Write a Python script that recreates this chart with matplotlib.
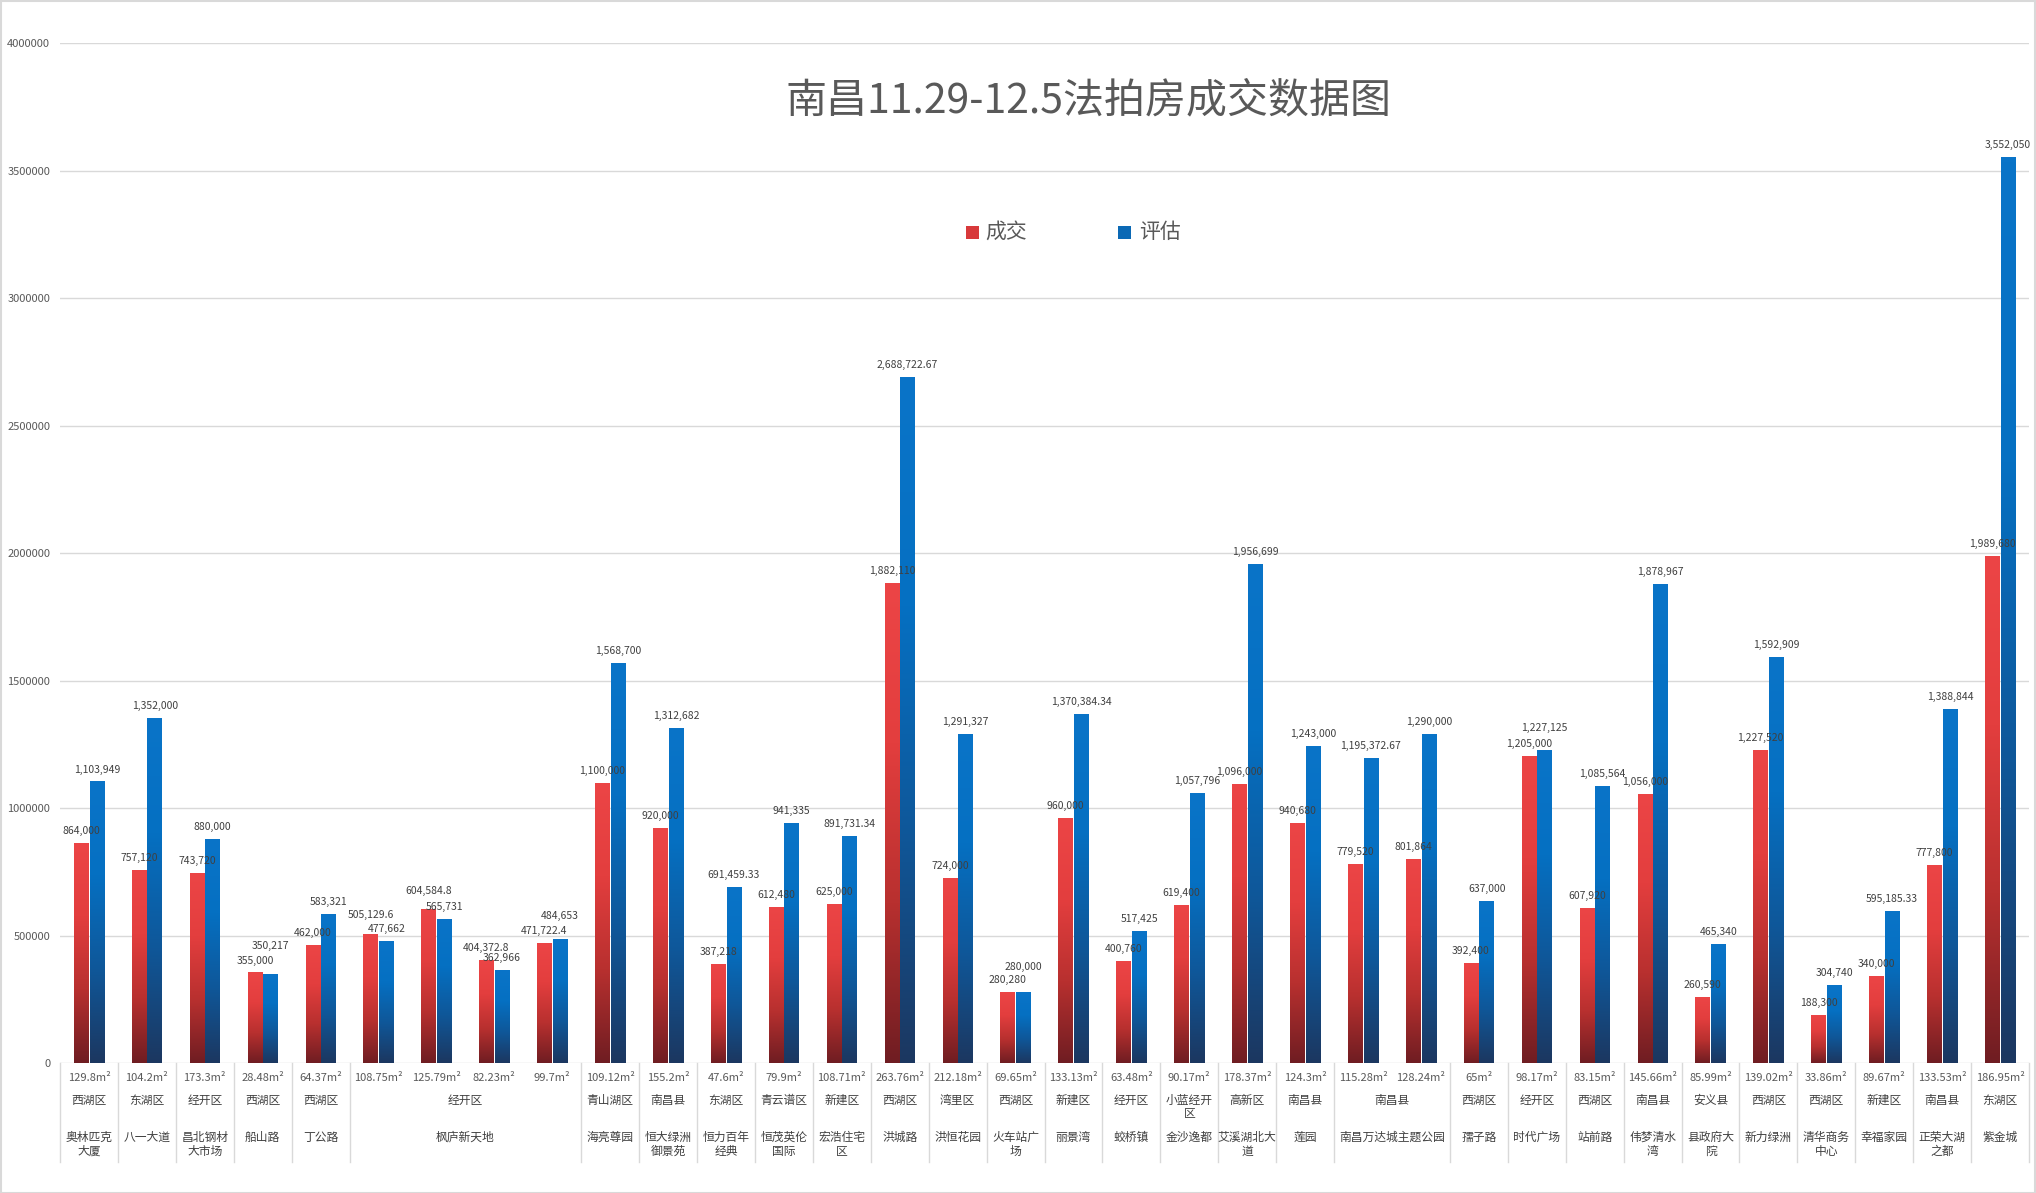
import matplotlib
matplotlib.use('Agg')
import matplotlib.pyplot as plt
import numpy as np
from matplotlib.colors import LinearSegmentedColormap
from matplotlib.patches import Rectangle

plt.rcParams['font.family'] = ['Noto Sans CJK SC', 'DejaVu Sans']

# 面积
areas = ["129.8m²", "104.2m²", "173.3m²", "28.48m²", "64.37m²", "108.75m²", "125.79m²",
         "82.23m²", "99.7m²", "109.12m²", "155.2m²", "47.6m²", "79.9m²", "108.71m²",
         "263.76m²", "212.18m²", "69.65m²", "133.13m²", "63.48m²", "90.17m²", "178.37m²",
         "124.3m²", "115.28m²", "128.24m²", "65m²", "98.17m²", "83.15m²", "145.66m²",
         "85.99m²", "139.02m²", "33.86m²", "89.67m²", "133.53m²", "186.95m²"]

# 区域 / 小区: (起始序号, 结束序号, 文字)
districts = [(0, 0, "西湖区"), (1, 1, "东湖区"), (2, 2, "经开区"), (3, 3, "西湖区"), (4, 4, "西湖区"),
             (5, 8, "经开区"), (9, 9, "青山湖区"), (10, 10, "南昌县"), (11, 11, "东湖区"),
             (12, 12, "青云谱区"), (13, 13, "新建区"), (14, 14, "西湖区"), (15, 15, "湾里区"),
             (16, 16, "西湖区"), (17, 17, "新建区"), (18, 18, "经开区"), (19, 19, "小蓝经开\n区"),
             (20, 20, "高新区"), (21, 21, "南昌县"), (22, 23, "南昌县"), (24, 24, "西湖区"),
             (25, 25, "经开区"), (26, 26, "西湖区"), (27, 27, "南昌县"), (28, 28, "安义县"),
             (29, 29, "西湖区"), (30, 30, "西湖区"), (31, 31, "新建区"), (32, 32, "南昌县"),
             (33, 33, "东湖区")]

names = [(0, 0, "奥林匹克\n大厦"), (1, 1, "八一大道"), (2, 2, "昌北钢材\n大市场"), (3, 3, "船山路"),
         (4, 4, "丁公路"), (5, 8, "枫庐新天地"), (9, 9, "海亮尊园"), (10, 10, "恒大绿洲\n御景苑"),
         (11, 11, "恒力百年\n经典"), (12, 12, "恒茂英伦\n国际"), (13, 13, "宏浩住宅\n区"),
         (14, 14, "洪城路"), (15, 15, "洪恒花园"), (16, 16, "火车站广\n场"), (17, 17, "丽景湾"),
         (18, 18, "蛟桥镇"), (19, 19, "金沙逸都"), (20, 20, "艾溪湖北大\n道"), (21, 21, "莲园"),
         (22, 23, "南昌万达城主题公园"), (24, 24, "孺子路"), (25, 25, "时代广场"),
         (26, 26, "站前路"), (27, 27, "伟梦清水\n湾"), (28, 28, "县政府大\n院"),
         (29, 29, "新力绿洲"), (30, 30, "清华商务\n中心"), (31, 31, "幸福家园"),
         (32, 32, "正荣大湖\n之都"), (33, 33, "紫金城")]

deal = [864000, 757120, 743720, 355000, 462000, 505129.6, 604584.8, 404372.8, 471722.4,
        1100000, 920000, 387218, 612480, 625000, 1882110, 724000, 280280, 960000, 400760,
        619400, 1096000, 940680, 779520, 801864, 392400, 1205000, 607920, 1056000, 260590,
        1227520, 188300, 340000, 777800, 1989680]

assess = [1103949, 1352000, 880000, 350217, 583321, 477662, 565731, 362966, 484653,
          1568700, 1312682, 691459.33, 941335, 891731.34, 2688722.67, 1291327, 280000,
          1370384.34, 517425, 1057796, 1956699, 1243000, 1195372.67, 1290000, 637000,
          1227125, 1085564, 1878967, 465340, 1592909, 304740, 595185.33, 1388844, 3552050]

W, H = 2036, 1193
fig = plt.figure(figsize=(W / 100, H / 100), dpi=100)
ax_left, ax_right, ax_bot, ax_top = 60, 2029, 1063, 43
ax = fig.add_axes([ax_left / W, 1 - ax_bot / H, (ax_right - ax_left) / W, (ax_bot - ax_top) / H])

n = len(areas)
x = np.arange(n)
bw = 0.25
off = 0.135

red_cmap = LinearSegmentedColormap.from_list("r", ["#6f1d22", "#b8302f", "#e33e3e", "#ec4546"])
blue_cmap = LinearSegmentedColormap.from_list("b", ["#1c3760", "#0f5799", "#0570c2", "#0a74c8"])
grad = np.linspace(0, 1, 256).reshape(-1, 1)

ax.set_xlim(-0.5, n - 0.5)
ax.set_ylim(0, 4000000)

# 标签避让（额外上移，单位 pt）
lift_red = {5: 5, 6: 4}
lift_blue = {3: 11, 8: 8, 16: 9, 25: 7}


def fmt(v):
    if float(v).is_integer():
        return format(int(v), ",")
    return format(v, ",")


for vals, dx, cmap, col, lift in [(deal, -off, red_cmap, "#d8393b", lift_red),
                                   (assess, off, blue_cmap, "#0b69b5", lift_blue)]:
    bars = ax.bar(x + dx, vals, width=bw, color=col, zorder=2)
    for i, (b, v) in enumerate(zip(bars, vals)):
        x0 = b.get_x()
        im = ax.imshow(grad, extent=[x0, x0 + bw, 0, v], origin="lower", aspect="auto",
                       cmap=cmap, zorder=2.5, interpolation="bilinear")
        im.set_clip_path(b)
        ax.annotate(fmt(v), (x0 + bw / 2, v), xytext=(0, 5 + lift.get(i, 0)),
                    textcoords="offset points", ha="center", va="bottom",
                    fontsize=7.5, color="#404040", zorder=4)

ax.set_xlim(-0.5, n - 0.5)
ax.set_ylim(0, 4000000)

ax.set_yticks(np.arange(0, 4000001, 500000))
ax.set_yticklabels([str(v) for v in range(0, 4000001, 500000)], fontsize=8, color="#595959")
ax.tick_params(axis="y", length=0, pad=7)
ax.set_xticks([])
ax.grid(axis="y", color="#d9d9d9", linewidth=1)
ax.set_axisbelow(True)
for s in ax.spines.values():
    s.set_visible(False)

tr = ax.get_xaxis_transform()


def ay(px):
    return (ax_bot - px) / (ax_bot - ax_top)


# 分类标签
for i, a in enumerate(areas):
    ax.text(i, ay(1078), a, transform=tr, ha="center", va="center", fontsize=8, color="#595959")
for s, e, t in districts:
    ax.text((s + e) / 2, ay(1094), t, transform=tr, ha="center", va="top", fontsize=8.5,
            color="#404040", linespacing=1.05)
for s, e, t in names:
    ax.text((s + e) / 2, ay(1131), t, transform=tr, ha="center", va="top", fontsize=8.5,
            color="#404040", linespacing=1.05)

# 分隔线
bounds = sorted(set([s - 0.5 for s, e, t in districts] + [n - 0.5]))
for b in bounds:
    ax.plot([b, b], [ay(1063), ay(1162)], transform=tr, color="#d9d9d9", linewidth=1, clip_on=False)

# 标题
fig.text(1089 / W, 1 - 101 / H, "南昌11.29-12.5法拍房成交数据图", ha="center", va="center",
         fontsize=29.5, color="#595959")

# 图例
for cx, c, lab, tx in [(972, "#d8393b", "成交", 985), (1124, "#0b69b5", "评估", 1139)]:
    fig.add_artist(Rectangle(((cx - 6.5) / W, 1 - (232 + 6.5) / H), 13 / W, 13 / H,
                             transform=fig.transFigure, facecolor=c, edgecolor="none"))
    fig.text(tx / W, 1 - 232 / H, lab, ha="left", va="center", fontsize=15, color="#595959")

# 外框
fig.add_artist(Rectangle((0.5 / W, 0.5 / H), 1 - 1.5 / W, 1 - 1.5 / H, transform=fig.transFigure,
                         facecolor="none", edgecolor="#d9d9d9", linewidth=1.5))

fig.savefig("out.png", dpi=100)
